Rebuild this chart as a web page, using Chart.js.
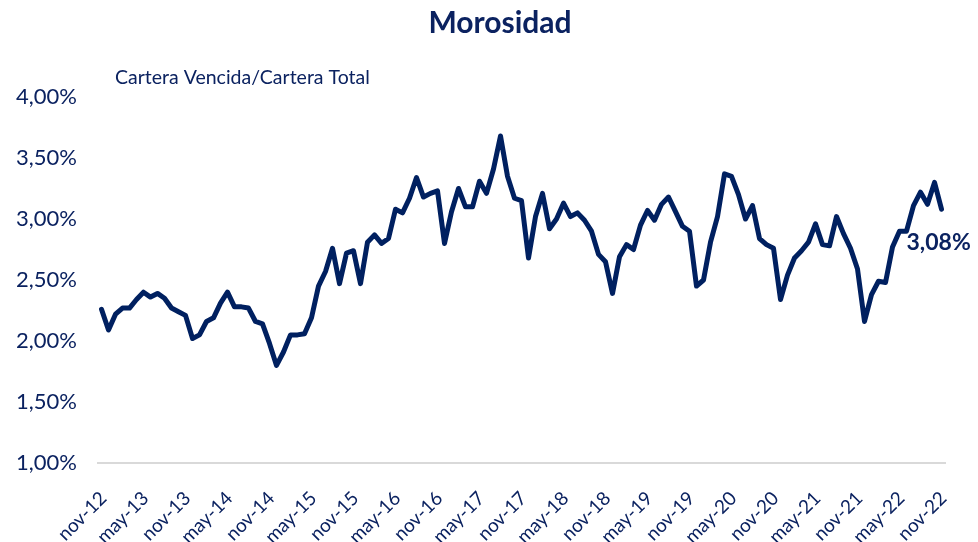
<!DOCTYPE html>
<html>
<head>
<meta charset="utf-8">
<script src="https://cdn.jsdelivr.net/npm/chart.js@4/dist/chart.umd.min.js"></script>
<style>
  html, body { margin: 0; padding: 0; background: #ffffff; }
  #wrap { width: 978px; height: 542px; position: relative; }
</style>
</head>
<body>
<div id="wrap"><canvas id="c" width="978" height="542"></canvas></div>
<script>
const chartTitle = "Morosidad";
const chartSubtitle = "Cartera Vencida/Cartera Total";

const categories = [
  "nov-12","dic-12",
  "ene-13","feb-13","mar-13","abr-13","may-13","jun-13","jul-13","ago-13","sep-13","oct-13","nov-13","dic-13",
  "ene-14","feb-14","mar-14","abr-14","may-14","jun-14","jul-14","ago-14","sep-14","oct-14","nov-14","dic-14",
  "ene-15","feb-15","mar-15","abr-15","may-15","jun-15","jul-15","ago-15","sep-15","oct-15","nov-15","dic-15",
  "ene-16","feb-16","mar-16","abr-16","may-16","jun-16","jul-16","ago-16","sep-16","oct-16","nov-16","dic-16",
  "ene-17","feb-17","mar-17","abr-17","may-17","jun-17","jul-17","ago-17","sep-17","oct-17","nov-17","dic-17",
  "ene-18","feb-18","mar-18","abr-18","may-18","jun-18","jul-18","ago-18","sep-18","oct-18","nov-18","dic-18",
  "ene-19","feb-19","mar-19","abr-19","may-19","jun-19","jul-19","ago-19","sep-19","oct-19","nov-19","dic-19",
  "ene-20","feb-20","mar-20","abr-20","may-20","jun-20","jul-20","ago-20","sep-20","oct-20","nov-20","dic-20",
  "ene-21","feb-21","mar-21","abr-21","may-21","jun-21","jul-21","ago-21","sep-21","oct-21","nov-21","dic-21",
  "ene-22","feb-22","mar-22","abr-22","may-22","jun-22","jul-22","ago-22","sep-22","oct-22","nov-22"
];

const morosidad = [
  2.26, 2.09,
  2.22, 2.27, 2.27, 2.34, 2.40, 2.36, 2.39, 2.35, 2.27, 2.24, 2.21, 2.02,
  2.05, 2.16, 2.19, 2.31, 2.40, 2.28, 2.28, 2.27, 2.16, 2.14, 1.98, 1.80,
  1.91, 2.05, 2.05, 2.06, 2.19, 2.45, 2.57, 2.76, 2.47, 2.72, 2.74, 2.47,
  2.81, 2.87, 2.80, 2.84, 3.08, 3.05, 3.17, 3.34, 3.18, 3.21, 3.23, 2.80,
  3.06, 3.25, 3.10, 3.10, 3.31, 3.21, 3.41, 3.68, 3.35, 3.17, 3.15, 2.68,
  3.02, 3.21, 2.92, 3.00, 3.13, 3.02, 3.05, 2.99, 2.90, 2.71, 2.65, 2.39,
  2.69, 2.79, 2.75, 2.95, 3.07, 2.99, 3.12, 3.18, 3.06, 2.94, 2.90, 2.45,
  2.50, 2.81, 3.02, 3.37, 3.35, 3.20, 3.00, 3.11, 2.84, 2.79, 2.76, 2.34,
  2.54, 2.68, 2.74, 2.81, 2.96, 2.79, 2.78, 3.02, 2.88, 2.76, 2.59, 2.16,
  2.38, 2.49, 2.48, 2.77, 2.90, 2.90, 3.11, 3.22, 3.12, 3.30, 3.08
];

const xTickLabels = [
  "nov-12","may-13","nov-13","may-14","nov-14","may-15","nov-15","may-16","nov-16","may-17","nov-17",
  "may-18","nov-18","may-19","nov-19","may-20","nov-20","may-21","nov-21","may-22","nov-22"
];

const yTickValues = [1.0, 1.5, 2.0, 2.5, 3.0, 3.5, 4.0];

const NAVY = "#0b2260";
const LINE = "#002060";
const FONT = "Lato, 'Open Sans', sans-serif";

function fmtPct(v) {
  return v.toFixed(2).replace('.', ',') + '%';
}

const textPlugin = {
  id: 'texts',
  afterDraw(chart) {
    const ctx = chart.ctx;
    ctx.save();
    ctx.fillStyle = NAVY;
    ctx.textBaseline = 'middle';
    // title
    ctx.font = "bold 30px " + FONT;
    ctx.textAlign = 'center';
    ctx.fillText(chartTitle, 500, 23);
    // subtitle
    ctx.font = "19.5px " + FONT;
    ctx.textAlign = 'left';
    ctx.fillText(chartSubtitle, 115, 78);
    // last value label
    const meta = chart.getDatasetMeta(0);
    const lastIdx = morosidad.length - 1;
    const pt = meta.data[lastIdx];
    ctx.font = "bold 23px " + FONT;
    ctx.textAlign = 'left';
    ctx.fillText(fmtPct(morosidad[lastIdx]), pt.x - 35, pt.y + 33);
    ctx.restore();
  }
};

new Chart(document.getElementById('c'), {
  type: 'line',
  data: {
    labels: categories,
    datasets: [{
      label: chartSubtitle,
      data: morosidad,
      borderColor: LINE,
      borderWidth: 5,
      pointRadius: 0,
      tension: 0,
      fill: false,
      borderJoinStyle: 'round',
      borderCapStyle: 'round'
    }]
  },
  options: {
    responsive: false,
    animation: false,
    devicePixelRatio: 1,
    layout: { padding: { top: 97, right: 33, left: 0, bottom: 0 } },
    plugins: {
      legend: { display: false },
      title: { display: false },
      tooltip: { enabled: false }
    },
    scales: {
      x: {
        type: 'category',
        offset: true,
        grid: { display: false, drawTicks: false },
        border: { display: true, color: '#d9d9d9', width: 2 },
        ticks: {
          autoSkip: false,
          maxRotation: 45,
          minRotation: 45,
          padding: 24,
          labelOffset: 2,
          color: NAVY,
          font: { family: FONT, size: 19 },
          callback: function (value) {
            const lab = this.getLabelForValue(value);
            return xTickLabels.includes(lab) ? lab : '';
          }
        },
        afterFit: function (scale) {
          scale.height = 79;
          scale.paddingLeft = 0;
          scale.paddingRight = 0;
        }
      },
      y: {
        min: 1,
        max: 4,
        grid: { display: false, drawTicks: false },
        border: { display: false },
        afterBuildTicks: function (scale) {
          scale.ticks = yTickValues.map(v => ({ value: v }));
        },
        ticks: {
          padding: 21,
          color: NAVY,
          font: { family: FONT, size: 22 },
          callback: function (value) { return fmtPct(value); }
        },
        afterFit: function (scale) { scale.width = 98; }
      }
    }
  },
  plugins: [textPlugin]
});
</script>
</body>
</html>
